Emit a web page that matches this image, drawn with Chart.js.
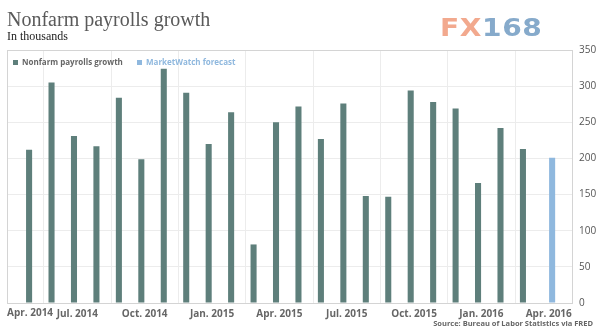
<!DOCTYPE html>
<html>
<head>
<meta charset="utf-8">
<script src="https://cdn.jsdelivr.net/npm/chart.js@4"></script>
<style>
  html, body { margin:0; padding:0; background:#fff; }
  #wrap { position:relative; width:600px; height:334px; overflow:hidden; }
  canvas { position:absolute; left:0; top:0; }
  .t { position:absolute; white-space:nowrap; }
  #title { left:7px; top:8px; font-family:"Liberation Serif", serif; font-size:20px; color:#5a5a5a; }
  #sub { left:7px; top:29px; font-family:"Liberation Serif", serif; font-size:12px; color:#222; }
  #logo { left:440px; top:14px; font-family:"DejaVu Sans", sans-serif; font-weight:bold; font-size:24px; letter-spacing:0.5px; transform:scaleX(1.17); transform-origin:0 0; }
  #logo .a { color:#f2a98e; } #logo .b { color:#86aacb; }
  .leg { top:56px; font-family:"Open Sans", sans-serif; font-weight:bold; font-size:8px; }
  .leg i { display:inline-block; width:5px; height:5px; margin-right:4px; vertical-align:0px; }
  #leg1 { left:13px; color:#666; } #leg1 i { background:#5e7f7b; }
  #leg2 { left:137px; color:#8fb8de; } #leg2 i { background:#8fb8de; }
  #src { right:7px; top:318px; font-family:"Open Sans", sans-serif; font-weight:bold; font-size:7.5px; color:#666; }
</style>
</head>
<body>
<div id="wrap">
  <canvas id="c" width="600" height="334"></canvas>
  <div class="t" id="title">Nonfarm payrolls growth</div>
  <div class="t" id="sub">In thousands</div>
  <div class="t" id="logo"><span class="a">FX</span><span class="b">168</span></div>
  <div class="t leg" id="leg1"><i></i>Nonfarm payrolls growth</div>
  <div class="t leg" id="leg2"><i></i>MarketWatch forecast</div>
  <div class="t" id="src">Source: Bureau of Labor Statistics via FRED</div>
</div>
<script>
// Months from Apr. 2014 (index 0) to Apr. 2016 (index 24)
const monthLabels = ["Apr. 2014","May 2014","Jun. 2014","Jul. 2014","Aug. 2014","Sep. 2014","Oct. 2014","Nov. 2014","Dec. 2014",
  "Jan. 2015","Feb. 2015","Mar. 2015","Apr. 2015","May 2015","Jun. 2015","Jul. 2015","Aug. 2015","Sep. 2015","Oct. 2015","Nov. 2015","Dec. 2015",
  "Jan. 2016","Feb. 2016","Mar. 2016","Apr. 2016"];
// Nonfarm payrolls growth, May 2014 .. Mar. 2016 (thousands)
const payrollMonths = [1,2,3,4,5,6,7,8,9,10,11,12,13,14,15,16,17,18,19,20,21,22,23];
const payrollValues = [212,305,231,217,284,199,324,291,220,264,81,250,272,227,276,148,147,294,278,269,166,242,213];
// MarketWatch forecast, Apr. 2016
const forecastMonths = [24];
const forecastValues = [201];
// Tick labels (quarterly)
const tickMonths = [0,3,6,9,12,15,18,21,24];
const yTicks = [0,50,100,150,200,250,300,350];

const boxPlugin = {
  id:'box',
  afterDatasetsDraw(chart){
    const {ctx, chartArea:a} = chart;
    ctx.save();
    ctx.strokeStyle = '#d4d4d4'; ctx.lineWidth = 1;
    ctx.strokeRect(Math.round(a.left)+0.5, Math.round(a.top)+0.5, Math.round(a.right-a.left)-1, Math.round(a.bottom-a.top));
    ctx.restore();
  },
  afterDraw(chart){
    // first quarterly label, kept inside the plot's left edge
    const {ctx, chartArea:a} = chart;
    ctx.save();
    ctx.font = 'bold 10px "Open Sans"';
    ctx.fillStyle = '#666';
    ctx.textBaseline = 'top';
    ctx.textAlign = 'left';
    ctx.fillText(monthLabels[tickMonths[0]], a.left, a.bottom + 5);
    ctx.restore();
  }
};

new Chart(document.getElementById('c'), {
  type:'bar',
  data:{
    datasets:[
      { label:'Nonfarm payrolls growth', data: payrollMonths.map((m,i)=>({x:m, y:payrollValues[i]})),
        backgroundColor:'#5e7f7b', categoryPercentage:0.6, barPercentage:0.9 },
      { label:'MarketWatch forecast', data: forecastMonths.map((m,i)=>({x:m, y:forecastValues[i]})),
        backgroundColor:'#8fb8de', categoryPercentage:0.6, barPercentage:0.9 }
    ]
  },
  options:{
    responsive:false, animation:false, devicePixelRatio:1,
    layout:{ padding:{ left:7, top:50, right:0, bottom:0 } },
    plugins:{ legend:{display:false}, tooltip:{enabled:false}, title:{display:false} },
    scales:{
      x:{
        type:'linear', min:-0.134, max:25.08, offset:false,
        afterBuildTicks: s => { s.ticks = tickMonths.map(v=>({value:v})); },
        afterFit: s => { s.height = 31; s.paddingLeft = 0; s.paddingRight = 0; },
        grid:{ color:'#ececec', drawTicks:false },
        border:{ display:false },
        ticks:{ autoSkip:false, maxRotation:0, padding:5, color:'#666',
          font:{ family:'"Open Sans"', size:10, weight:'bold' },
          callback: v => v === tickMonths[0] ? '' : monthLabels[v] }
      },
      y:{
        position:'right', min:0, max:350,
        afterBuildTicks: s => { s.ticks = yTicks.map(v=>({value:v})); },
        afterFit: s => { s.width = 27; },
        grid:{ color:'#ececec', drawTicks:false },
        border:{ display:false },
        ticks:{ padding:6, color:'#555', font:{ family:'"Open Sans"', size:10 } }
      }
    }
  },
  plugins:[boxPlugin]
});
</script>
</body>
</html>
